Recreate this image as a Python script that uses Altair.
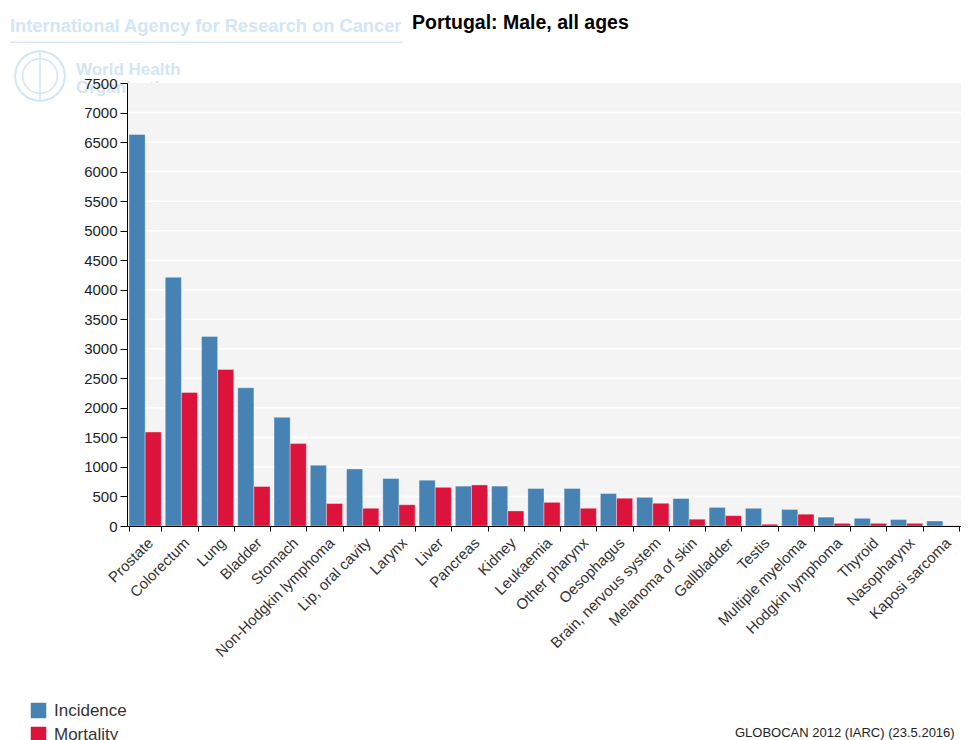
import altair as alt
import pandas as pd

categories = ["Prostate", "Colorectum", "Lung", "Bladder", "Stomach",
              "Non-Hodgkin lymphoma", "Lip, oral cavity", "Larynx", "Liver",
              "Pancreas", "Kidney", "Leukaemia", "Other pharynx", "Oesophagus",
              "Brain, nervous system", "Melanoma of skin", "Gallbladder", "Testis",
              "Multiple myeloma", "Hodgkin lymphoma", "Thyroid", "Nasopharynx",
              "Kaposi sarcoma"]
incidence = [6630, 4210, 3210, 2340, 1840, 1030, 965, 805, 775, 675, 675, 635,
             635, 550, 485, 465, 315, 300, 280, 150, 130, 110, 85]
mortality = [1590, 2260, 2650, 670, 1395, 380, 300, 360, 655, 695, 255, 400,
             300, 470, 385, 115, 175, 30, 200, 45, 45, 45, 3]
series = ["Incidence", "Mortality"]
colors = ["#4682B4", "#DC143C"]
y_ticks = list(range(0, 7501, 500))
grid_values = list(range(500, 7001, 500))

title_text = "Portugal: Male, all ages"
iarc_text = "International Agency for Research on Cancer"
who_line1 = "World Health"
who_line2 = "Organization"
credit_text = "GLOBOCAN 2012 (IARC) (23.5.2016)"

W, H = 834, 443
FONT = "Liberation Sans, Arial, sans-serif"
WM = "#D3E6F4"

rows = []
for c, i, m in zip(categories, incidence, mortality):
    rows.append({"cancer": c, "type": "Incidence", "value": i})
    rows.append({"cancer": c, "type": "Mortality", "value": m})
df = pd.DataFrame(rows)

yscale = alt.Scale(domain=[0, 7500], nice=False, zero=True)
y_axis = alt.Axis(values=y_ticks, format="d", grid=False, labelFont=FONT,
                  labelFontSize=15, labelColor="#222", tickSize=7,
                  tickColor="#000", domainColor="#000", labelPadding=3,
                  zindex=1, labelOverlap=False, title=None)


def note(text, x, y, size, color, weight="normal", align="left"):
    return alt.Chart(pd.DataFrame({"t": [text]})).mark_text(
        align=align, baseline="alphabetic", font=FONT, fontSize=size,
        fontWeight=weight, color=color
    ).encode(text="t:N", x=alt.value(x), y=alt.value(y))


one = pd.DataFrame({"k": [0]})

emblem_outer = alt.Chart(one).mark_point(
    shape="circle", size=2463, filled=False, color=WM, strokeWidth=2, opacity=1
).encode(x=alt.value(-87), y=alt.value(-7))
emblem_inner = alt.Chart(one).mark_point(
    shape="circle", size=1200, filled=False, color=WM, strokeWidth=1.5, opacity=1
).encode(x=alt.value(-87), y=alt.value(-7))
emblem_axis = alt.Chart(one).mark_rule(color=WM, strokeWidth=1.5).encode(
    x=alt.value(-87), y=alt.value(-33), y2=alt.value(19))

who1 = note(who_line1, -51, -8, 17, WM, "bold")
who2 = note(who_line2, -51, 10, 17, WM, "bold")
iarc = note(iarc_text, -117, -51.5, 18.3, WM, "bold")
underline = alt.Chart(one).mark_rule(color="#D8E9F5", strokeWidth=1.5).encode(
    x=alt.value(-117), x2=alt.value(276), y=alt.value(-40.7))
title = note(title_text, 285, -53.7, 19.5, "#000", "bold")

bg = alt.Chart(one).mark_rect(color="#F4F4F4").encode(
    x=alt.value(0), x2=alt.value(W), y=alt.value(0), y2=alt.value(H))

grid = alt.Chart(pd.DataFrame({"g": grid_values})).mark_rule(
    color="white", strokeWidth=1.5
).encode(y=alt.Y("g:Q", scale=yscale, axis=y_axis, title=None),
         x=alt.value(0), x2=alt.value(W))

bars = alt.Chart(df).mark_bar(stroke="white", strokeWidth=1, strokeOpacity=0.35).encode(
    x=alt.X("cancer:N", sort=categories, title=None,
            scale=alt.Scale(paddingInner=0.11, paddingOuter=0.055),
            axis=alt.Axis(labelAngle=-45, labelAlign="right", labelBaseline="top",
                          labelFont=FONT, labelFontSize=15, labelColor="#333",
                          labelPadding=4, tickBand="extent", tickSize=5,
                          tickColor="#000", domainColor="#000", zindex=1,
                          labelOverlap=False)),
    xOffset=alt.XOffset("type:N", sort=series,
                        scale=alt.Scale(paddingInner=0, paddingOuter=0)),
    y=alt.Y("value:Q", scale=yscale, title=None, axis=y_axis),
    color=alt.Color("type:N", sort=series,
                    scale=alt.Scale(domain=series, range=colors),
                    legend=alt.Legend(title=None, orient="none", legendX=-97,
                                      legendY=619, direction="vertical",
                                      symbolType="square", symbolSize=240,
                                      symbolStrokeWidth=0, symbolOpacity=1,
                                      labelFont=FONT, labelFontSize=17,
                                      labelColor="#333", rowPadding=6,
                                      labelOffset=7, padding=0)),
)

credit = note(credit_text, 608, 653.7, 13, "#222")

chart = alt.layer(
    emblem_outer, emblem_inner, emblem_axis, who1, who2, iarc, underline, title,
    bg, grid, bars, credit
).properties(
    width=W, height=H,
    autosize=alt.AutoSizeParams(type="none"),
    padding={"left": 119, "top": 75, "right": 0, "bottom": 225},
).configure_view(strokeWidth=0)

chart.save("out.html", embed_options={"renderer": "svg", "actions": False})
